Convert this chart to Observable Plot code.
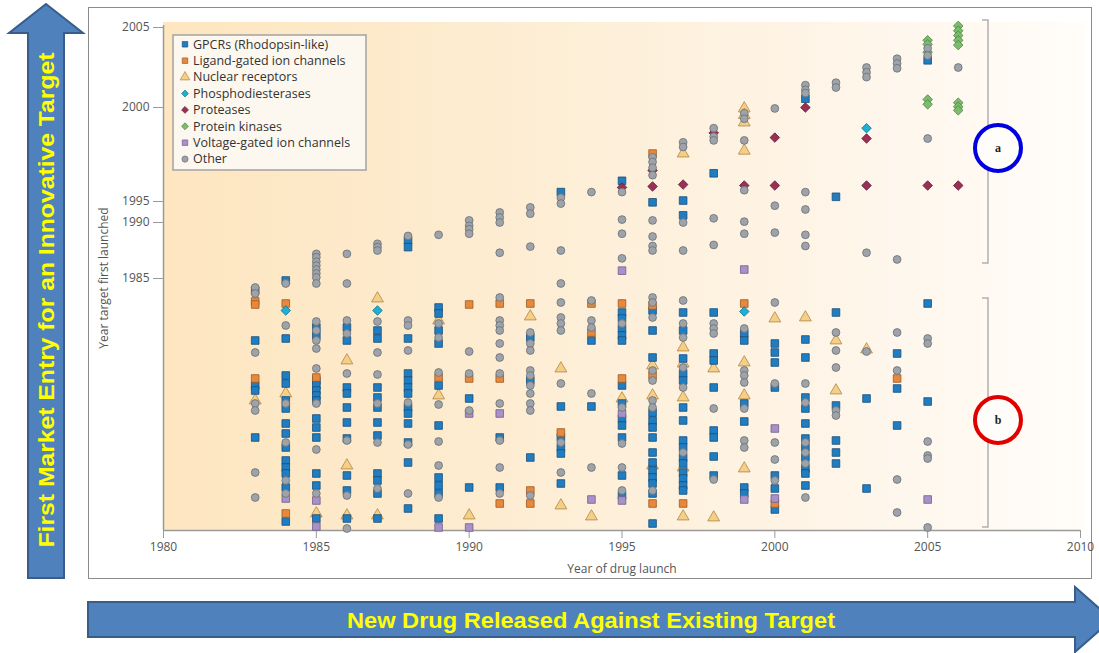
<!DOCTYPE html>
<html><head><meta charset="utf-8">
<script src="https://cdn.jsdelivr.net/npm/d3@7"></script>
<script src="https://cdn.jsdelivr.net/npm/@observablehq/plot@0.6"></script>
<style>
html,body{margin:0;padding:0;background:#fff;}
#wrap{position:relative;width:1099px;height:653px;overflow:hidden;font-family:"Open Sans",sans-serif;}
#box{position:absolute;left:88px;top:7px;width:1004px;height:572px;border:1.5px solid #8c8c8c;box-sizing:border-box;}
#bg{position:absolute;left:163px;top:22px;width:922px;height:508px;
 background:linear-gradient(to right,#fde6c0 0%,#fdecd1 35%,#fef3e3 65%,#fff9f2 88%,#fffdf9 100%);}
#chart{position:absolute;left:0;top:0;}
#deco{position:absolute;left:0;top:0;pointer-events:none;}
</style></head>
<body>
<div id="wrap"><div id="box"></div><div id="bg"></div><div id="chart"></div>
<svg id="deco" width="1099" height="653"></svg></div>
<script>
// ---- data: [year of drug launch, [years target first launched]] ----
const gpcr = [
 [1983,[1982.6,1972.6,1963.6,1962.6,1953.2]],
 [1984,[1984.6,1973,1965.6,1964,1960.6,1959,1956,1954,1951.2,1948.6,1947.2,1946,1943.2,1936.4]],
 [1985,[1975.2,1973.6,1964.6,1963.6,1962.6,1961.6,1960.6,1957,1955.2,1953.2,1946,1943.6,1937]],
 [1986,[1975.2,1972.6,1963.2,1962,1959.2,1956.2,1953,1945.6,1942.6,1937]],
 [1987,[1974.6,1973,1963.2,1961.2,1959.2,1956.2,1953.6,1946,1944.6,1942,1937]],
 [1988,[1988.4,1987.8,1973,1966,1964.6,1963.2,1962,1959.2,1958,1956,1952.2,1948.2,1939]],
 [1989,[1979.2,1978,1974.6,1972,1963.6,1955.6,1945.2,1943.6,1942,1937]],
 [1990,[1961,1943.2]],
 [1991,[1953.2,1943.2]],
 [1992,[1973.2,1964.6,1949.2]],
 [1993,[1995.5,1959.4,1953.2,1951.2,1950,1944]],
 [1994,[1972.6,1959.4]],
 [1995,[1996.1,1978.2,1977,1975,1973.6,1972.6,1963.6,1960,1957,1955.6,1953.2,1945.6,1941.6]],
 [1996,[1994.8,1978.6,1974.6,1969.2,1958.2,1956.6,1955.2,1953.2,1950.2,1948.2,1946.6,1945.2,1944,1942,1936]],
 [1997,[1995.05,1991.7,1978.2,1974.6,1969,1966,1964.6,1959.2,1956.6,1952.6,1951.2,1949.2,1948,1946.2,1945,1943.6,1942.6]],
 [1998,[1996.5,1978.2,1970,1968.6,1963.2,1954.6,1953.2,1949.4,1945.6]],
 [1999,[1974,1972.6,1960,1956.4,1943.2,1942]],
 [2000,[1972,1970.2,1968.2,1963.2,1945.6,1943,1938.8]],
 [2001,[2000.55,1972.8,1969.2,1961.2,1959,1956,1953,1951.2,1949.2,1947,1946,1943.6]],
 [2002,[1995.25,1978.2,1959.6,1952.6,1950.2,1948]],
 [2003,[1961,1943]],
 [2004,[1970,1963,1955.6]],
 [2005,[2002.95,1980,1960.4]]
];
const ligandGated = [
 [1983,[1980.4,1979.8,1965]],[1984,[1980,1938]],[1985,[1965.2]],[1989,[1965.2]],
 [1990,[1979.8,1965]],[1991,[1980,1965,1940]],[1992,[1980,1942.6,1940]],[1993,[1954.2]],
 [1994,[1980,1974.2]],[1995,[1980,1965]],[1996,[1997.55,1979.6,1965.6,1940]],[1997,[1940]],
 [1999,[1980]],[2000,[1940]],[2004,[1965]]
];
const nuclear = [
 [1983,[1960.6]],[1984,[1962]],[1985,[1938]],[1986,[1968.6,1947.6,1937.6]],[1987,[1981,1937.6]],
 [1989,[1976.6,1961.6]],[1990,[1937.6]],[1992,[1977.4]],[1993,[1967,1939.6]],[1994,[1937.4]],
 [1995,[1961]],[1996,[1967.6,1961.6,1947.6]],[1997,[1997.55,1971.2,1968,1961.2,1947.2,1937.4]],
 [1998,[1967,1937.2]],[1999,[1999.95,1999.6,1999.2,1997.7,1968.2,1961.6,1947]],
 [2000,[1977]],[2001,[1977.2]],[2002,[1972.6,1962.6]],[2003,[1970.8]]
];
const pde = [[1984,[1978.6]],[1987,[1978.6]],[1999,[1978.4]],[2003,[1998.9]]];
const proteases = [
 [1995,[1995.75]],[1996,[1996.65,1995.8]],[1997,[1995.9]],[1998,[1998.65]],[1999,[1995.85]],
 [2000,[1998.4,1995.85]],[2001,[2000]],[2003,[1998.35,1995.85]],[2005,[1995.85]],[2006,[1995.85]]
];
const kinases = [
 [2005,[2004.2,2003.95,2003.45,2000.5,2000.2]],
 [2006,[2005.1,2004.8,2004.5,2004.2,2003.9,2000.3,2000.05,1999.85]]
];
const voltageGated = [
 [1984,[1941]],[1985,[1940.6,1935.4]],[1989,[1935.2]],[1990,[1958,1935.2]],[1991,[1958]],
 [1994,[1940.8]],[1995,[1985.7,1958,1940.6]],[1999,[1985.8,1940.8]],[2000,[1955,1941]],[2005,[1940.8]]
];
const other = [
 [1983,[1983.2,1982,1970.2,1960,1958.6,1946.2,1941.2]],
 [1984,[1984,1975.6,1960,1952.2,1944.6,1942]],
 [1985,[1987.2,1986.9,1986.5,1986.15,1985.8,1985.45,1985.1,1984,1976.4,1974.6,1972.6,1971,1967,1960,1950.8,1942]],
 [1986,[1987.2,1984,1976.6,1974,1966,1952.6,1941.6,1935]],
 [1987,[1988.1,1987.8,1987.5,1976.4,1970.2,1965.8,1960,1952.2,1943]],
 [1988,[1988.8,1976.6,1975.6,1970.6,1960.2,1951.8,1942]],
 [1989,[1988.9,1976,1973.2,1966.2,1959.8,1952.4,1947.6,1941.2]],
 [1990,[1990.5,1989.7,1989.4,1989,1970.4,1966,1958.6]],
 [1991,[1992.4,1991.2,1990,1987.3,1981.2,1976.6,1975.6,1974.6,1972,1969.2,1966,1960,1952.6,1947.2,1942]],
 [1992,[1993.6,1992.1,1987.85,1974.2,1972,1970.6,1966.6,1965.6,1963.6,1962,1960,1958.6,1941.6]],
 [1993,[1995.2,1994.5,1987.5,1984,1980.2,1977.2,1976,1974.6,1964,1952.2,1946.2]],
 [1994,[1995.5,1980.6,1976.6,1975.2,1962,1947.2]],
 [1995,[1995.5,1990.7,1989,1986.8,1976,1959.2,1952,1947.2,1942.6]],
 [1996,[1997.35,1997.1,1996.8,1996.4,1990.5,1988.75,1987.9,1987.5,1981.2,1980.2,1977.2,1966.6,1964.6,1960.6,1959.2,1942.6]],
 [1997,[1998.15,1997.9,1990,1987.5,1980.6,1976,1973.2,1967.2,1963.2,1950.2]],
 [1998,[1998.9,1998.45,1998.25,1991,1988,1976,1975,1974,1959,1944.8]],
 [1999,[1999.7,1999.4,1998.25,1995.6,1990.2,1989,1975,1966.6,1965.6,1964.2,1959,1952.6,1951.2]],
 [2000,[1999.95,1994,1989.1,1980.2,1964,1952.2,1948.8,1944.6]],
 [2001,[2001.4,2001.1,2000.9,1995.5,1993.1,1988.9,1987.9,1964,1960.2,1952.2,1950.2,1948,1941.2]],
 [2002,[2001.55,2001.25,1974.2,1970.6,1967.2,1958.6,1957.6]],
 [2003,[2002.5,2002.2,2001.9,1987.3,1970.4]],
 [2004,[2003.05,2002.75,2002.45,1986.7,1974.2,1966.6,1944.8,1938.2]],
 [2005,[2003.7,2003.25,1998.35,1973,1972,1952.4,1949.6,1949,1935.2]],
 [2006,[2002.5]]
];
const familyNames = ["GPCRs (Rhodopsin-like)","Ligand-gated ion channels","Nuclear receptors","Phosphodiesterases","Proteases","Protein kinases","Voltage-gated ion channels","Other"];
const xTicks = [1980,1985,1990,1995,2000,2005,2010];
const yTicks = [1985,1990,1995,2000,2005];
const yBreaks = [1934.6,1985,1990,1995,2000,2005];

// ---- styles ----
const styles = [
 {data:gpcr, symbol:"square", fill:"#1f7ec2", stroke:"#1b4d78", r:4.3},
 {data:ligandGated, symbol:"square", fill:"#e8883b", stroke:"#9a5a28", r:4.3},
 {data:nuclear, symbol:"triangle", fill:"#f6cf86", stroke:"#b08548", r:4.4},
 {data:pde, symbol:"diamond2", fill:"#1db0d4", stroke:"#12708a", r:4.3},
 {data:proteases, symbol:"diamond2", fill:"#9c2f55", stroke:"#5e1c33", r:4.3},
 {data:kinases, symbol:"diamond2", fill:"#7bbd6d", stroke:"#4a7f40", r:4.3},
 {data:voltageGated, symbol:"square", fill:"#a890c8", stroke:"#6f5f8a", r:4.3},
 {data:other, symbol:"circle", fill:"#9ea3a9", stroke:"#6a6f75", r:3.9}
];
const flat = d => d.flatMap(([launch, ts]) => ts.map(t => ({launch, target: t})));
const drawOrder = [2,0,1,6,3,4,5,7];

const chart = Plot.plot({
  width:1099, height:653,
  marginLeft:163, marginRight:19, marginTop:25, marginBottom:123,
  style:{background:"transparent", fontFamily:"Open Sans, sans-serif", fontSize:"12px", color:"#555"},
  x:{type:"linear", domain:[1980,2010]},
  y:{type:"linear", domain:yBreaks, range:[530,278,222,201,107,27]},
  marks:[
    Plot.ruleX([1980],{stroke:"#9a9a9a", strokeWidth:1.5}),
    Plot.ruleY([yBreaks[0]],{stroke:"#9a9a9a", strokeWidth:1.5}),
    Plot.axisX({ticks:xTicks, tickFormat:d=>String(d), tickSize:8, tickPadding:4, stroke:"#9a9a9a",
      label:"Year of drug launch", labelAnchor:"center", labelOffset:42, labelArrow:"none", fill:"#555"}),
    Plot.axisY({ticks:yTicks, tickFormat:d=>String(d), tickSize:10, tickPadding:4, stroke:"#9a9a9a",
      label:"Year target first launched", labelAnchor:"center", labelOffset:64, labelArrow:"none", fill:"#555"}),
    ...drawOrder.map(i => {
      const s = styles[i];
      return Plot.dot(flat(s.data), {x:"launch", y:"target", symbol:s.symbol, r:s.r,
        fill:s.fill, stroke:s.stroke, strokeWidth:0.8});
    })
  ]
});
document.getElementById("chart").appendChild(chart);

// ---- decorations: arrows, legend, brackets ----
const deco = d3.select("#deco");
deco.append("polygon").attr("points","46,4 83,33 64,33 64,578 28,578 28,33 9,33")
  .attr("fill","#4f81bd").attr("stroke","#385d8a").attr("stroke-width",2);
deco.append("text").attr("transform","translate(54,300) rotate(-90)")
  .attr("text-anchor","middle").attr("font-family","Liberation Sans, Arial, sans-serif")
  .attr("font-weight","bold").attr("font-size",22).attr("fill","#ffff00")
  .attr("textLength",495).attr("lengthAdjust","spacingAndGlyphs")
  .text("First Market Entry for an Innovative Target");
deco.append("polygon").attr("points","88,602 1075,602 1075,587 1112,619.5 1075,652 1075,637 88,637")
  .attr("fill","#4f81bd").attr("stroke","#385d8a").attr("stroke-width",2);
deco.append("text").attr("x",591).attr("y",627.5)
  .attr("text-anchor","middle").attr("font-family","Liberation Sans, Arial, sans-serif")
  .attr("font-weight","bold").attr("font-size",22).attr("fill","#ffff00")
  .attr("textLength",488).attr("lengthAdjust","spacingAndGlyphs")
  .text("New Drug Released Against Existing Target");

// legend
deco.append("rect").attr("x",173).attr("y",35).attr("width",193).attr("height",135)
  .attr("fill","#fdf8ef").attr("stroke","#a3a3a3").attr("stroke-width",1.5);
const symMap = {square:d3.symbolSquare, triangle:d3.symbolTriangle, diamond2:d3.symbolDiamond2, circle:d3.symbolCircle};
familyNames.forEach((name,i) => {
  const s = styles[i], y = 44.3 + i*16.4;
  deco.append("path").attr("transform",`translate(185,${y})`)
    .attr("d", d3.symbol(symMap[s.symbol], s.symbol==="triangle"?40:30)())
    .attr("fill",s.fill).attr("stroke",s.stroke).attr("stroke-width",0.7);
  deco.append("text").attr("x",193).attr("y",y+4.3).attr("font-family","Open Sans, sans-serif")
    .attr("font-size",12.5).attr("fill","#333").text(name);
});

// brackets
deco.append("path").attr("d","M982,20 H988 V263 H982").attr("fill","none").attr("stroke","#b0b0b0").attr("stroke-width",1.5);
deco.append("path").attr("d","M982,298 H988 V527 H982").attr("fill","none").attr("stroke","#b0b0b0").attr("stroke-width",1.5);
[[148,"#0000e0","a"],[420,"#e00000","b"]].forEach(([cy,col,t]) => {
  deco.append("circle").attr("cx",998).attr("cy",cy).attr("r",23).attr("fill","#fffdf9")
    .attr("stroke",col).attr("stroke-width",4);
  deco.append("text").attr("x",998).attr("y",cy+4).attr("text-anchor","middle")
    .attr("font-family","Liberation Serif, serif").attr("font-weight","bold").attr("font-size",12)
    .attr("fill","#222").text(t);
});
</script>
</body></html>
